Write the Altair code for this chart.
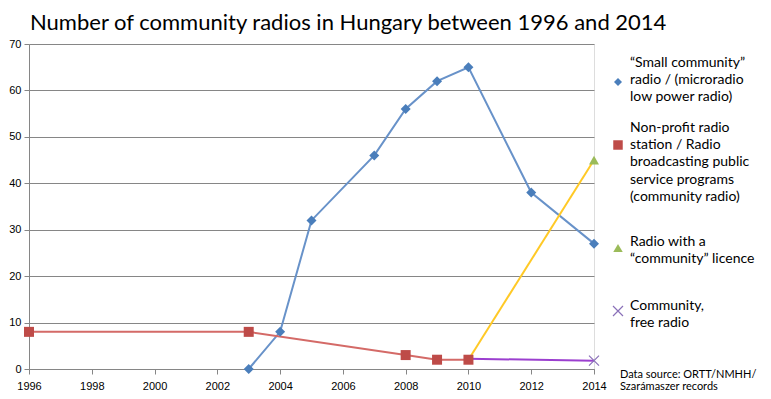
import altair as alt
import pandas as pd

# ---- data ----
small_years = [2003, 2004, 2005, 2007, 2008, 2009, 2010, 2012, 2014]
small_vals = [0, 8, 32, 46, 56, 62, 65, 38, 27]
nonprofit_years = [1996, 2003, 2008, 2009, 2010]
nonprofit_vals = [8, 8, 3, 2, 2]
licence_years = [2010, 2014]
licence_vals = [2, 45]
free_years = [2010, 2014]
free_vals = [2.2, 1.8]

series_names = ["small", "nonprofit", "licence", "free"]
legend_labels = [
    "“Small community”\nradio / (microradio\nlow power radio)",
    "Non-profit radio\nstation / Radio\nbroadcasting public\nservice programs\n(community radio)",
    "Radio with a\n“community” licence",
    "Community,\nfree radio",
]
source_text = "Data source: ORTT/NMHH/\nSzarámaszer records"
title_text = "Number of community radios in Hungary between 1996 and 2014"
x_ticks = list(range(1996, 2015, 2))
y_ticks = list(range(0, 71, 10))

rows = []
for name, ys, vs in [("small", small_years, small_vals),
                     ("nonprofit", nonprofit_years, nonprofit_vals),
                     ("licence", licence_years, licence_vals),
                     ("free", free_years, free_vals)]:
    for yr, v in zip(ys, vs):
        rows.append({"series": name, "year": yr, "value": v})
df = pd.DataFrame(rows)

XSHAPE = "M-1,-1L1,1M1,-1L-1,1"
line_colors = ["#6892C9", "#D46A67", "#FFC926", "#9B3FCF"]
marker_colors = ["#4A7EBB", "#BE4B48", "#9BBB59", "#8A70B8"]
marker_shapes = ["diamond", "square", "triangle-up", XSHAPE]
marker_sizes = [100, 100, 100, 100]
legend_sizes = [64, 90, 90, 100]

W, H = 565, 325
FONT = "Lato"
AXFONT = "Liberation Sans"

xenc = alt.X("year:Q", scale=alt.Scale(domain=[1996, 2014], nice=False, zero=False),
             axis=alt.Axis(values=x_ticks, format="d", title=None, grid=False,
                           labelFont=AXFONT, labelFontSize=11, labelColor="#000",
                           domainColor="#868686", tickColor="#868686", tickSize=5,
                           labelPadding=6, labelFlush=False))
yenc = alt.Y("value:Q", scale=alt.Scale(domain=[0, 70], nice=False),
             axis=alt.Axis(values=y_ticks, title=None, grid=True, gridColor="#868686",
                           gridWidth=1, labelFont=AXFONT, labelFontSize=11, labelColor="#000",
                           domainColor="#868686", tickColor="#868686", tickSize=5,
                           labelPadding=3))

base = alt.Chart(df)
lines = base.mark_line(strokeWidth=2).encode(
    x=xenc, y=yenc,
    color=alt.Color("series:N", scale=alt.Scale(domain=series_names, range=line_colors), legend=None),
    detail="series:N",
)
points = base.transform_filter(
    "(datum.series != 'licence' && datum.series != 'free') || datum.year == 2014"
).mark_point(filled=True, opacity=1).encode(
    x="year:Q", y="value:Q",
    shape=alt.Shape("series:N", scale=alt.Scale(domain=series_names, range=marker_shapes), legend=None),
    fill=alt.Fill("series:N", scale=alt.Scale(domain=series_names, range=marker_colors), legend=None),
    stroke=alt.Stroke("series:N", scale=alt.Scale(domain=series_names, range=marker_colors), legend=None),
    size=alt.Size("series:N", scale=alt.Scale(domain=series_names, range=marker_sizes), legend=None),
    strokeWidth=alt.condition("datum.series == 'free'", alt.value(1.2), alt.value(0)),
)

# ---- manual legend (positions relative to plot origin; y = first text line) ----
leg_sym_y = [38, 101, 204, 267]
leg_txt_y = [19, 84, 198, 262]
legend_layers = []
for i in range(4):
    legend_layers.append(
        alt.Chart(pd.DataFrame({"t": [legend_labels[i]]})).mark_text(
            align="left", baseline="middle", font=FONT, fontSize=14, lineBreak="\n",
            lineHeight=17.2, color="#000"
        ).encode(text="t:N", x=alt.value(601), y=alt.value(leg_txt_y[i]))
    )
    legend_layers.append(
        alt.Chart(pd.DataFrame({"s": [series_names[i]]})).mark_point(
            filled=True, opacity=1,
            size=legend_sizes[i], shape=marker_shapes[i],
            fill=marker_colors[i], stroke=marker_colors[i],
            strokeWidth=1.2 if i == 3 else 0
        ).encode(x=alt.value(589), y=alt.value(leg_sym_y[i]))
    )
legend_layers.append(
    alt.Chart(pd.DataFrame({"t": [source_text]})).mark_text(
        align="left", baseline="middle", font=FONT, fontSize=11, lineBreak="\n",
        lineHeight=12, color="#000"
    ).encode(text="t:N", x=alt.value(591), y=alt.value(331))
)

chart = alt.layer(lines, points, *legend_layers).properties(
    width=W, height=H,
    title=alt.TitleParams(title_text, anchor="start", frame="group", font=FONT, fontSize=22,
                          fontWeight="normal", color="#000", offset=3, dx=1),
    padding={"left": 0, "top": 4, "right": 0, "bottom": 0},
).configure_view(stroke=None).configure(background="white")

chart.save("out.html", embed_options={"renderer": "svg", "actions": False})
